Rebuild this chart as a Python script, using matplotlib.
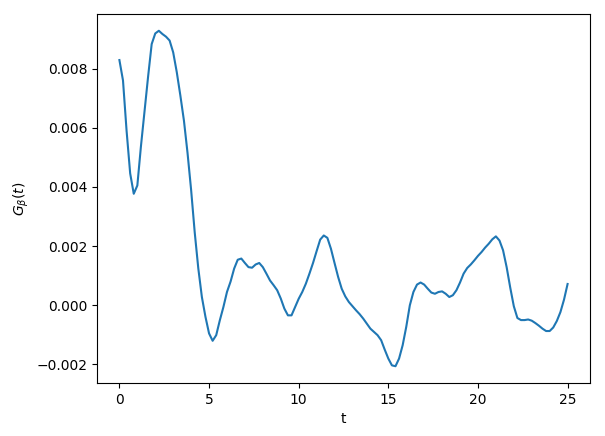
import numpy as np
import matplotlib
matplotlib.use("Agg")
import matplotlib.pyplot as plt

t = np.linspace(0, 25, 126)
G = [
    0.00829, 0.00760, 0.00590, 0.00446, 0.00377, 0.00405, 0.00537, 0.00655, 0.00773, 0.00883,
    0.00919, 0.00928, 0.00917, 0.00908, 0.00895, 0.00855, 0.00788, 0.00709, 0.00624, 0.00515,
    0.00390, 0.00247, 0.00125, 0.00028, -0.00039, -0.00095, -0.00120, -0.00101, -0.00051, -0.00006,
    0.00045, 0.00080, 0.00124, 0.00154, 0.00158, 0.00143, 0.00129, 0.00127, 0.00138, 0.00143,
    0.00129, 0.00107, 0.00084, 0.00068, 0.00051, 0.00023, -0.00011, -0.00034, -0.00034, -0.00006,
    0.00022, 0.00045, 0.00073, 0.00107, 0.00143, 0.00183, 0.00222, 0.00236, 0.00228, 0.00191,
    0.00143, 0.00096, 0.00056, 0.00030, 0.00011, -0.00003, -0.00017, -0.00030, -0.00045, -0.00062,
    -0.00079, -0.00090, -0.00101, -0.00118, -0.00150, -0.00180, -0.00203, -0.00206, -0.00180, -0.00135,
    -0.00073, 0.00000, 0.00045, 0.00070, 0.00077, 0.00070, 0.00056, 0.00043, 0.00039, 0.00045,
    0.00047, 0.00039, 0.00028, 0.00034, 0.00051, 0.00077, 0.00107, 0.00126, 0.00138, 0.00152,
    0.00167, 0.00180, 0.00195, 0.00208, 0.00223, 0.00233, 0.00219, 0.00186, 0.00129, 0.00060,
    -0.00003, -0.00043, -0.00050, -0.00050, -0.00048, -0.00052, -0.00060, -0.00069, -0.00079, -0.00087,
    -0.00087, -0.00075, -0.00053, -0.00023, 0.00019, 0.00072,
]

fig = plt.figure(figsize=(6.05, 4.36), dpi=100)
ax = fig.add_axes([97/605, 1-383/436, (590-97)/605, (383-14)/436])
ax.plot(t, G)
ax.set_xlabel("t")
ax.set_ylabel(r"$G_\beta(t)$")
fig.savefig("out.png", dpi=100)
